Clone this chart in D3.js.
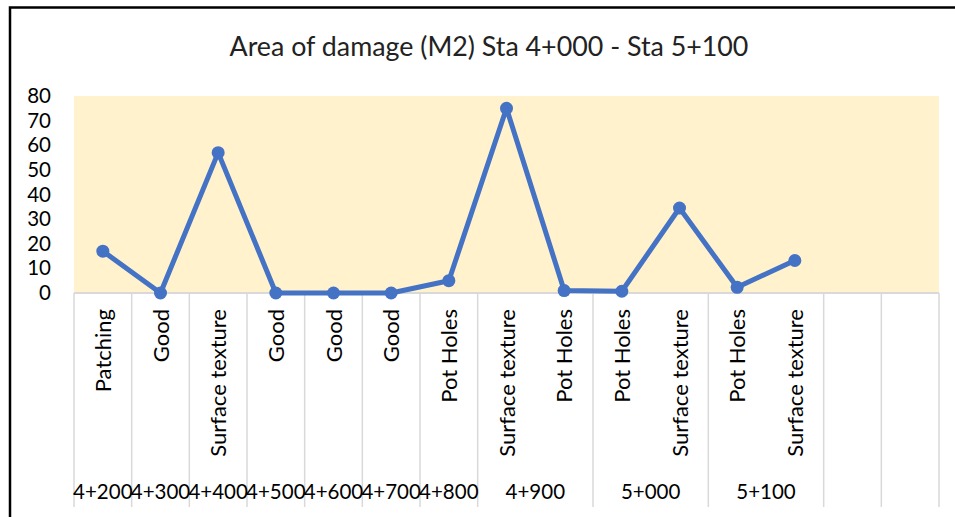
<!DOCTYPE html>
<html>
<head>
<meta charset="utf-8">
<script src="https://cdn.jsdelivr.net/npm/d3@7"></script>
<style>
  html, body { margin: 0; padding: 0; background: #ffffff; }
  svg { display: block; font-family: Lato, "Open Sans", sans-serif; }
</style>
</head>
<body>
<svg id="chart" width="955" height="517"></svg>
<script>
const damageTypes = ["Patching","Good","Surface texture","Good","Good","Good","Pot Holes","Surface texture","Pot Holes","Pot Holes","Surface texture","Pot Holes","Surface texture","",""];
const stations = ["4+200","4+300","4+400","4+500","4+600","4+700","4+800","4+900","4+900","5+000","5+000","5+100","5+100","",""];
const areaValues = [17, 0, 57, 0, 0, 0, 5, 75, 1, 0.7, 34.5, 2.3, 13.2];
const yTicks = [0, 10, 20, 30, 40, 50, 60, 70, 80];
const title = "Area of damage (M2) Sta 4+000 - Sta 5+100";

const svg = d3.select("#chart");
const plot = { left: 74, right: 939, top: 96, bottom: 293, axisBottom: 507 };

// outer frame (left and top border)
svg.append("path")
  .attr("d", `M10,517 L10,7.5 L955,7.5`)
  .attr("fill", "none").attr("stroke", "#000").attr("stroke-width", 2.5);

// title
svg.append("text")
  .attr("x", 489).attr("y", 56)
  .attr("text-anchor", "middle")
  .attr("font-size", 26.8)
  .attr("fill", "#222")
  .text(title);

const idx = d3.range(damageTypes.length);
const x = d3.scaleBand().domain(idx).range([plot.left, plot.right]).padding(0);
const y = d3.scaleLinear().domain([0, 80]).range([plot.bottom, plot.top]);

// plot background
svg.append("rect")
  .attr("x", plot.left).attr("y", plot.top)
  .attr("width", plot.right - plot.left).attr("height", plot.bottom - plot.top)
  .attr("fill", "#fff2cc");

// y axis
const yAxis = d3.axisLeft(y).tickValues(yTicks).tickSize(0).tickPadding(0);
const gy = svg.append("g").attr("transform", "translate(51,0)").call(yAxis);
gy.select(".domain").remove();
gy.selectAll("text").attr("font-size", 20.5).attr("fill", "#000").attr("font-family", "Lato, sans-serif");

// category axis line
svg.append("line")
  .attr("x1", plot.left).attr("x2", plot.right)
  .attr("y1", plot.bottom).attr("y2", plot.bottom)
  .attr("stroke", "#d9d9d9").attr("stroke-width", 2);

// group boundaries
const boundaries = [0];
idx.forEach(i => {
  if (i === idx.length - 1 || stations[i] !== stations[i + 1] || stations[i] === "") boundaries.push(i + 1);
});
svg.append("g").selectAll("line").data(boundaries).join("line")
  .attr("x1", d => d < idx.length ? x(d) : x(idx.length - 1) + x.bandwidth())
  .attr("x2", d => d < idx.length ? x(d) : x(idx.length - 1) + x.bandwidth())
  .attr("y1", plot.bottom).attr("y2", plot.axisBottom)
  .attr("stroke", "#d9d9d9").attr("stroke-width", 1.5);

// inner labels (rotated)
svg.append("g").selectAll("text").data(idx.filter(i => damageTypes[i] !== "")).join("text")
  .attr("transform", i => `translate(${x(i) + x.bandwidth() / 2 + 8},309) rotate(-90)`)
  .attr("text-anchor", "end")
  .attr("font-size", 22)
  .attr("fill", "#000")
  .text(i => damageTypes[i]);

// outer labels (groups)
const groups = [];
idx.forEach(i => {
  if (stations[i] === "") return;
  const g = groups.find(gr => gr.name === stations[i]);
  if (g) g.end = i; else groups.push({ name: stations[i], start: i, end: i });
});
svg.append("g").selectAll("text").data(groups).join("text")
  .attr("x", g => (x(g.start) + x(g.end) + x.bandwidth()) / 2)
  .attr("y", 499)
  .attr("text-anchor", "middle")
  .attr("font-size", 20.5)
  .attr("fill", "#000")
  .text(g => g.name);

// line series
const line = d3.line().x((d, i) => x(i) + x.bandwidth() / 2).y(d => y(d));
svg.append("path")
  .datum(areaValues)
  .attr("d", line)
  .attr("fill", "none")
  .attr("stroke", "#4472c4")
  .attr("stroke-width", 5)
  .attr("stroke-linejoin", "round");

svg.append("g").selectAll("circle").data(areaValues).join("circle")
  .attr("cx", (d, i) => x(i) + x.bandwidth() / 2)
  .attr("cy", d => y(d))
  .attr("r", 6.5)
  .attr("fill", "#4472c4");
</script>
</body>
</html>
